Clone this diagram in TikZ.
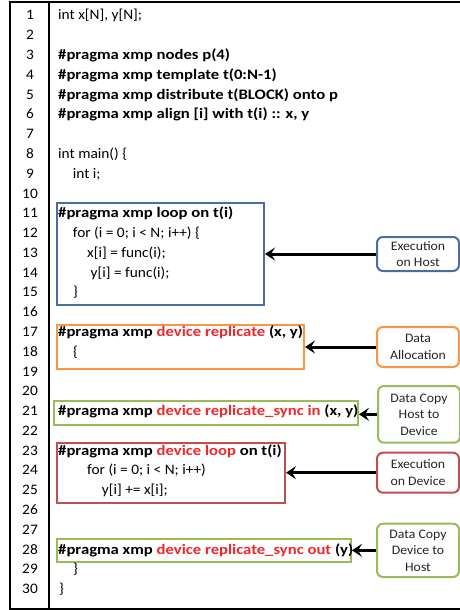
\documentclass[tikz,border=0pt]{standalone}
\usepackage{fontspec}
\setmainfont{Carlito}[FakeStretch=1.06, BoldFeatures={FakeStretch=1.15}]
\usetikzlibrary{arrows.meta}
\definecolor{cblue}{HTML}{4A6E9F}
\definecolor{corange}{HTML}{F79646}
\definecolor{cgreen}{HTML}{9BBB59}
\definecolor{cred}{HTML}{C0504D}
\definecolor{kw}{HTML}{F0262B}
\newcommand{\kwd}[1]{\textcolor{kw}{#1}}
\begin{document}
\begin{tikzpicture}[x=1pt,y=-1pt,
  codefont/.style={font=\fontsize{14.5}{17}\selectfont},
  num/.style={codefont, anchor=base, inner sep=0pt},
  code/.style={codefont, anchor=base west, inner sep=0pt},
  pbox/.style={draw=#1, line width=2pt, anchor=north west, inner sep=0pt},
  callout/.style={draw=#1, line width=2pt, rounded corners=6pt, fill=white,
    minimum width=82pt, align=center, text=black!85,
    font=\fontsize{13}{16.5}\selectfont, inner sep=2pt},
  arr/.style={line width=3pt, -{Stealth[length=10pt,width=13pt,inset=4pt]}}
]
\useasboundingbox (0,0) rectangle (459,610);
% table frame
\draw[line width=1.3pt] (461,2) -- (10,2) -- (10,609) -- (461,609);
\draw[line width=1.3pt] (49,2) -- (49,609);
% line numbers
\foreach \i in {1,...,30} {
  \node[num] (n\i) at (30, {20+(\i-1)*19.78}) {\i};
}
% code boxes
\node[pbox=cblue, minimum width=207pt, minimum height=102pt] (bhost) at (56,202) {};
\node[pbox=corange, minimum width=247pt, minimum height=44pt] (balloc) at (56,324) {};
\node[pbox=cgreen, minimum width=304pt, minimum height=24pt] (bin) at (53,400) {};
\node[pbox=cred, minimum width=228pt, minimum height=60pt] (bdev) at (56,441.7) {};
\node[pbox=cgreen, minimum width=294pt, minimum height=22.7pt] (bout) at (56,538) {};
% code lines
\node[code] (c1) at (58, {20+0*19.78}) {int x[N], y[N];};
\node[code] (c3) at (58, {20+2*19.78}) {\bfseries \#pragma xmp nodes p(4)};
\node[code] (c4) at (58, {20+3*19.78}) {\bfseries \#pragma xmp template t(0:N-1)};
\node[code] (c5) at (58, {20+4*19.78}) {\bfseries \#pragma xmp distribute t(BLOCK) onto p};
\node[code] (c6) at (58, {20+5*19.78}) {\bfseries \#pragma xmp align [i] with t(i) :: x, y};
\node[code] (c8) at (58, {20+7*19.78}) {int main() \{};
\node[code] (c9) at (72.7, {20+8*19.78}) {int i;};
\node[code] (c11) at (58, {20+10*19.78}) {\bfseries \#pragma xmp loop on t(i)};
\node[code] (c12) at (72.7, {20+11*19.78}) {for (i = 0; i < N; i++) \{};
\node[code] (c13) at (87, {20+12*19.78}) {x[i] = func(i);};
\node[code] (c14) at (90.5, {20+13*19.78}) {y[i] = func(i);};
\node[code] (c15) at (73, {20+14*19.78}) {\}};
\node[code] (c17) at (58, {20+16*19.78}) {\bfseries \#pragma xmp \kwd{device replicate} (x, y)};
\node[code] (c18) at (73, {20+17*19.78}) {\{};
\node[code] (c21) at (58, {20+20*19.78}) {\bfseries \#pragma xmp \kwd{device replicate\_sync in} (x, y)};
\node[code] (c23) at (58, {20+22*19.78}) {\bfseries \#pragma xmp \kwd{device loop} on t(i)};
\node[code] (c24) at (87, {20+23*19.78}) {for (i = 0; i < N; i++)};
\node[code] (c25) at (101.7, {20+24*19.78}) {y[i] += x[i];};
\node[code] (c28) at (58, {20+27*19.78}) {\bfseries \#pragma xmp \kwd{device replicate\_sync out} (y)};
\node[code] (c29) at (73, {20+28*19.78}) {\}};
\node[code] (c30) at (59, {20+29*19.78}) {\}};
% callouts
\node[callout=cblue, minimum height=34pt, anchor=north west] (khost) at (376,236) {Execution\\on Host};
\node[callout=corange, minimum height=40pt, anchor=north west] (kalloc) at (376,326) {Data\\Allocation};
\node[callout=cgreen, minimum height=56.7pt, anchor=north west] (kin) at (377,385) {Data Copy\\Host to\\Device};
\node[callout=cred, minimum height=40pt, anchor=north west] (kdev) at (376,451.7) {Execution\\on Device};
\node[callout=cgreen, minimum height=53.3pt, anchor=north west] (kout) at (376,522.7) {Data Copy\\Device to\\Host};
% arrows
\draw[arr] (khost.west) -- (khost.west -| bhost.east);
\draw[arr] (kalloc.west) -- (kalloc.west -| balloc.east);
\draw[arr] (kin.west) -- (kin.west -| bin.east);
\draw[arr] (kdev.west) -- (kdev.west -| bdev.east);
\draw[arr] (kout.west) -- (kout.west -| bout.east);
\end{tikzpicture}
\end{document}
